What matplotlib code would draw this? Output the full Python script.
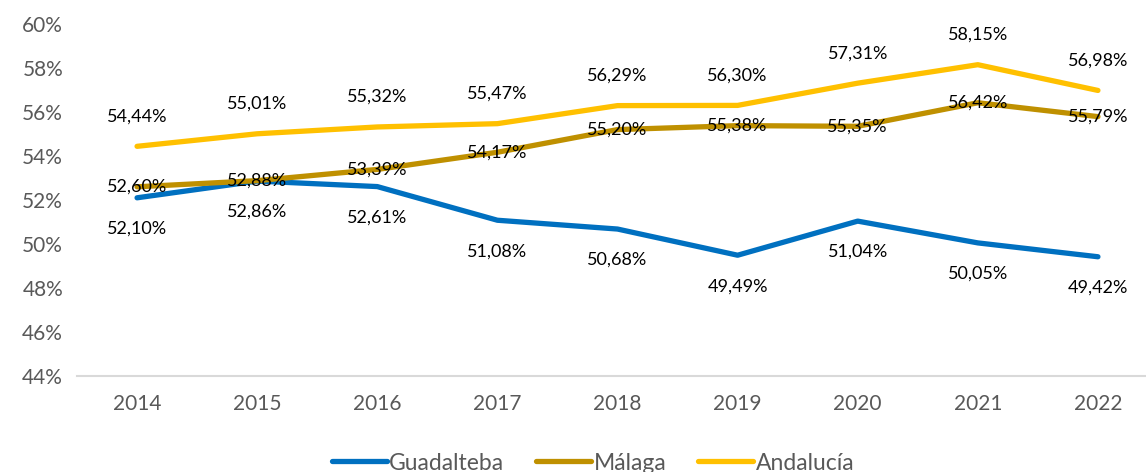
import matplotlib.pyplot as plt
from matplotlib.ticker import FuncFormatter

plt.rcParams['font.family'] = ['Lato', 'DejaVu Sans']

years = ['2014', '2015', '2016', '2017', '2018', '2019', '2020', '2021', '2022']
guadalteba = [52.10, 52.86, 52.61, 51.08, 50.68, 49.49, 51.04, 50.05, 49.42]
malaga = [52.60, 52.88, 53.39, 54.17, 55.20, 55.38, 55.35, 56.42, 55.79]
andalucia = [54.44, 55.01, 55.32, 55.47, 56.29, 56.30, 57.31, 58.15, 56.98]

fig = plt.figure(figsize=(11.46, 4.72), dpi=100)
ax = fig.add_axes([77 / 1146, 96 / 472, 1081 / 1146, 352 / 472])

x = range(len(years))
series = [
    ('Guadalteba', guadalteba, '#0070C0', -31),
    ('Málaga', malaga, '#BF9000', 0),
    ('Andalucía', andalucia, '#FFC000', 30),
]
for name, vals, col, off in series:
    ax.plot(x, vals, color=col, lw=3.8, label=name, solid_capstyle='round', zorder=2)
    for i, v in enumerate(vals):
        ax.annotate(f'{v:.2f}%'.replace('.', ','), (i, v), xytext=(0, off),
                    textcoords='offset pixels', ha='center', va='center',
                    fontsize=13, color='#000000', zorder=3)

ax.set_xlim(-0.5, 8.5)
ax.set_ylim(44, 60)
ax.set_yticks(range(44, 61, 2))
ax.yaxis.set_major_formatter(FuncFormatter(lambda v, p: f'{v:.0f}%'))
ax.set_xticks(list(x))
ax.set_xticklabels(years)
ax.tick_params(axis='both', length=0, labelsize=15, colors='#595959')
ax.tick_params(axis='x', pad=13)
ax.tick_params(axis='y', pad=10)
for s in ['top', 'right', 'left']:
    ax.spines[s].set_visible(False)
ax.spines['bottom'].set_color('#D9D9D9')
ax.spines['bottom'].set_linewidth(1.5)

leg = fig.legend(loc='center', bbox_to_anchor=(593 / 1146, 9 / 472), ncol=3,
                 frameon=False, fontsize=16.5, handlelength=2.4, handletextpad=0.1,
                 columnspacing=1.4)
for t in leg.get_texts():
    t.set_color('#595959')

fig.savefig('out.png', dpi=100)
